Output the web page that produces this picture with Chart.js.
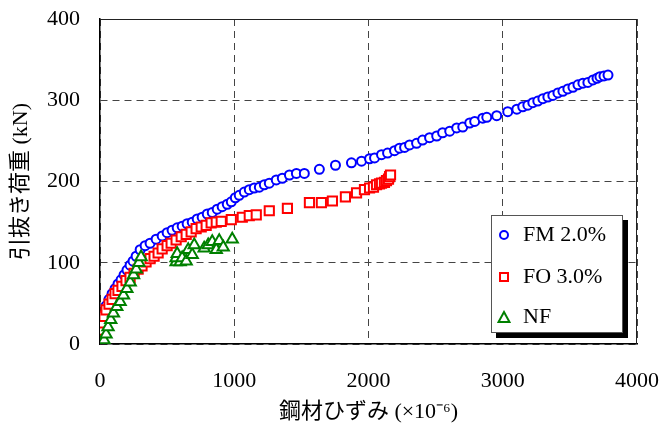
<!DOCTYPE html>
<html>
<head>
<meta charset="utf-8">
<script src="https://cdn.jsdelivr.net/npm/chart.js@4/dist/chart.umd.min.js"></script>
<style>
  html, body { margin: 0; padding: 0; background: #fff; }
  #wrap { position: relative; width: 664px; height: 425px; }
  #legend {
    position: absolute; left: 491px; top: 215px; width: 132px; height: 118px;
    box-sizing: border-box; border: 1px solid #555; background: #fff;
    box-shadow: 5px 5px 0 #000;
    font-family: 'Liberation Serif', 'Times New Roman', serif; font-size: 22px; color: #000;
  }
  .item { position: absolute; left: 0; height: 24px; line-height: 24px; white-space: nowrap; }
  .item svg { position: absolute; left: 5px; top: 6px; }
  .item span { position: absolute; left: 31px; top: 0; }
</style>
</head>
<body>
<div id="wrap">
  <canvas id="c" width="664" height="425"></canvas>
  <div id="legend"></div>
</div>
<script>
// ---- data (strain ×10^-6, load kN) ----
const fmStrain = [0,15,30,45,67,90,112,134,157,179,201,224,246,269,299,336,373,418,463,500,537,575,612,649,687,724,761,799,836,873,910,948,978,1008,1037,1075,1112,1149,1187,1224,1261,1313,1358,1411,1463,1522,1634,1754,1873,1948,2008,2045,2097,2142,2194,2231,2269,2306,2358,2403,2455,2508,2552,2605,2657,2702,2754,2791,2851,2881,2955,3037,3105,3149,3187,3224,3261,3299,3336,3373,3411,3448,3485,3523,3560,3597,3634,3672,3702,3724,3754,3784];
const fmLoad   = [0,15,30,47,55,62,68,74,79,85,91,97,102,108,116,121,124,129,133,137,140,143,145,148,150,154,156,160,162,166,169,172,175,180,183,187,190,192,193,196,198,202,204,208,210,210,215,220,223,225,228,229,233,235,238,241,242,245,247,251,254,256,260,262,266,267,272,274,278,279,281,286,289,292,294,297,299,302,304,306,309,311,314,316,319,321,322,325,327,329,330,331];

const foStrain = [0,0,7,15,30,45,67,90,112,134,164,194,224,254,284,313,343,373,403,433,463,500,530,567,605,642,679,716,754,791,828,866,903,978,1060,1112,1164,1261,1396,1560,1649,1731,1828,1911,1970,2008,2037,2060,2082,2097,2119,2134,2149,2157,2164];
const foLoad   = [0,7,17,26,34,42,49,55,62,66,71,78,82,87,92,96,101,105,108,112,117,121,124,128,132,135,138,142,144,146,149,150,151,153,156,158,159,164,167,174,174,176,181,186,190,192,193,196,197,198,199,201,203,206,208];

const nfStrain = [0,15,30,45,60,80,100,125,150,175,200,225,250,270,290,306,567,567,575,597,612,642,657,687,702,776,806,836,866,888,918,985];
const nfLoad   = [0,3,5,12,21,30,38,46,52,60,68,76,85,92,100,107,101,106,111,101,106,102,116,110,122,118,122,126,116,127,119,129];

const xTicks = [0,1000,2000,3000,4000];
const yTicks = [0,100,200,300,400];
const seriesNames = ['FM 2.0%','FO 3.0%','NF'];

const toPts = (xs, ys) => xs.map((x, i) => ({x, y: ys[i]}));
const serif = "'Liberation Serif', 'Noto Sans CJK JP', serif";

const framePlugin = {
  id: 'frame',
  afterDraw(chart) {
    const {ctx, chartArea: a} = chart;
    ctx.save();
    ctx.strokeStyle = '#222';
    ctx.lineWidth = 1;
    ctx.beginPath();
    ctx.moveTo(a.left, a.top + 0.5); ctx.lineTo(a.right, a.top + 0.5);
    ctx.moveTo(a.right - 0.5, a.top); ctx.lineTo(a.right - 0.5, a.bottom);
    ctx.stroke();
    ctx.restore();
  }
};

new Chart(document.getElementById('c'), {
  type: 'scatter',
  data: {
    datasets: [
      { label: seriesNames[0], data: toPts(fmStrain, fmLoad), pointStyle: 'circle', pointRadius: 4.5,
        borderColor: '#0000ff', backgroundColor: '#ffffff', pointBorderWidth: 2, order: 2 },
      { label: seriesNames[1], data: toPts(foStrain, foLoad), pointStyle: 'rect', pointRadius: 6.5,
        borderColor: '#ff0000', backgroundColor: '#ffffff', pointBorderWidth: 2, order: 1 },
      { label: seriesNames[2], data: toPts(nfStrain, nfLoad), pointStyle: 'triangle', pointRadius: 6.5,
        borderColor: '#008000', backgroundColor: '#ffffff', pointBorderWidth: 2, order: 0 }
    ]
  },
  options: {
    responsive: false,
    animation: false,
    devicePixelRatio: 1,
    layout: { padding: { top: 19, right: 27, left: 0, bottom: 0 } },
    plugins: { legend: { display: false }, tooltip: { enabled: false } },
    scales: {
      x: {
        type: 'linear', min: 0, max: 4000,
        afterBuildTicks: s => { s.ticks = xTicks.map(v => ({value: v})); },
        afterFit: s => { s.height = 81; s.paddingLeft = 0; s.paddingRight = 0; },
        ticks: { font: { family: serif, size: 22 }, color: '#000', padding: 24, maxRotation: 0,
                 callback: v => String(v) },
        grid: { color: '#444', lineWidth: 1, drawTicks: false },
        border: { display: true, color: '#000', width: 1.5, dash: [7, 5] },
        title: { display: true, text: '鋼材ひずみ (×10⁻⁶)', color: '#000',
                 font: { family: serif, size: 22 }, padding: { top: 0, bottom: 0 } }
      },
      y: {
        type: 'linear', min: 0, max: 400,
        afterBuildTicks: s => { s.ticks = yTicks.map(v => ({value: v})); },
        afterFit: s => { s.width = 100; s.paddingTop = 0; s.paddingBottom = 0; },
        ticks: { font: { family: serif, size: 22 }, color: '#000', padding: 20,
                 callback: v => String(v) },
        grid: { color: '#444', lineWidth: 1, drawTicks: false },
        border: { display: true, color: '#000', width: 1.5, dash: [7, 5] },
        title: { display: true, text: '引抜き荷重 (kN)', color: '#000',
                 font: { family: serif, size: 22 }, padding: { top: 8, bottom: 0 } }
      }
    }
  },
  plugins: [framePlugin]
});

// legend (HTML overlay)
const legendEl = document.getElementById('legend');
const markers = [
  '<svg width="14" height="14"><circle cx="7" cy="7" r="4" fill="#fff" stroke="#0000ff" stroke-width="2"/></svg>',
  '<svg width="14" height="14"><rect x="3" y="3" width="8" height="8" fill="#fff" stroke="#ff0000" stroke-width="2"/></svg>',
  '<svg width="14" height="14"><polygon points="7,2 12.5,12 1.5,12" fill="#fff" stroke="#008000" stroke-width="2"/></svg>'
];
const rowTops = [6, 48, 88];
seriesNames.forEach((n, i) => {
  const d = document.createElement('div');
  d.className = 'item';
  d.style.top = rowTops[i] + 'px';
  d.innerHTML = markers[i] + '<span>' + n + '</span>';
  legendEl.appendChild(d);
});
</script>
</body>
</html>
